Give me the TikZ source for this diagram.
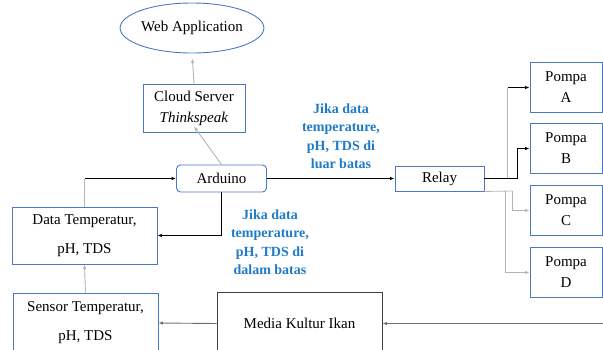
\documentclass[tikz,border=0pt]{standalone}
\usepackage{fontspec}
\setmainfont{Liberation Serif}
\usetikzlibrary{arrows.meta,shapes.geometric}
\definecolor{boxblue}{HTML}{4A78C8}
\definecolor{txtblue}{HTML}{1F7BC8}
\definecolor{lgray}{HTML}{B4B4B4}
\definecolor{dgray}{HTML}{6E6E6E}
\tikzset{
  blk/.style={draw=boxblue, line width=0.9pt, align=center, inner sep=0pt,
    font=\fontsize{15}{21}\selectfont},
  tallblk/.style={blk, font=\fontsize{15}{29}\selectfont},
  note/.style={text=txtblue, align=center, font=\fontsize{14}{18.5}\selectfont\bfseries},
  arr/.style={-{Latex[length=4.5pt,width=3.5pt]}, line width=0.9pt},
  gline/.style={lgray, line width=0.8pt},
}
\begin{document}
\begin{tikzpicture}[x=1pt,y=-1pt]
\useasboundingbox (0,0) rectangle (603,349);

% Server side
\node[blk, ellipse, minimum width=128, minimum height=50] (web) at (192,28) {Web Application};
\node[blk, minimum width=102, minimum height=48] (cloud) at (194,108) {Cloud Server\\\textit{Thinkspeak}};
\node[blk, rounded corners=4pt, minimum width=90, minimum height=27] (ard) at (221.5,178.5) {Arduino};
\node[blk, minimum width=89, minimum height=25] (relay) at (439.5,178.5) {Relay};

% Sensor side
\node[tallblk, minimum width=145, minimum height=57] (data) at (84.5,235.5) {Data Temperatur,\\pH, TDS};
\node[tallblk, minimum width=145, minimum height=60] (sensor) at (85.5,323) {Sensor Temperatur,\\pH, TDS};
\node[blk, draw=black!75, minimum width=165, minimum height=62] (media) at (299.5,323.5) {Media Kultur Ikan};

% Pumps
\node[blk, minimum width=72, minimum height=50] (pA) at (566,87.5) {Pompa\\A};
\node[blk, minimum width=72, minimum height=50] (pB) at (566,148.5) {Pompa\\B};
\node[blk, minimum width=72, minimum height=50] (pC) at (566,210.5) {Pompa\\C};
\node[blk, minimum width=72, minimum height=50] (pD) at (566,272.5) {Pompa\\D};

% Conditions
\node[note] (outside) at (341,136) {Jika data\\temperature,\\pH, TDS di\\luar batas};
\node[note] (inside) at (270,242) {Jika data\\temperature,\\pH, TDS di\\dalam batas};

% Connections
\draw[gline, arr, shorten >=5pt] (cloud.north) -- (web.south);
\draw[gline, arr] (ard.north) -- ([yshift=6pt]cloud.south);
\coordinate (up) at (data.north |- ard.west);
\draw[gline] (data.north) -- (up);
\draw[arr] (up) -- (ard.west);
\draw[arr] (ard.south) |- (data.east);
\draw[arr] (ard.east) -- (relay.west);
\draw[gline, arr] (sensor.north) -- (data.south);
\draw[dgray, arr] (media.west) -- (sensor.east);
\coordinate (tank) at (603,323.5);
\draw[dgray, arr] (tank) -- (media.east);

% Relay to pumps
\coordinate (r1) at (507.5,178.5);
\coordinate (r2) at (517.5,178.5);
\coordinate (r3) at (505.5,191);
\coordinate (r4) at (512.5,191);
\draw[gline] (r1) -- (r1 |- pA.west);
\draw[arr] (r1 |- pA.west) -- (pA.west);
\draw[arr] (relay.east) -- (r2) |- (pB.west);
\draw[gline] (relay.south east) -- (r4);
\draw[gline, arr] (r4) |- (pC.west);
\draw[gline, arr] (r3) |- (pD.west);
\end{tikzpicture}
\end{document}
